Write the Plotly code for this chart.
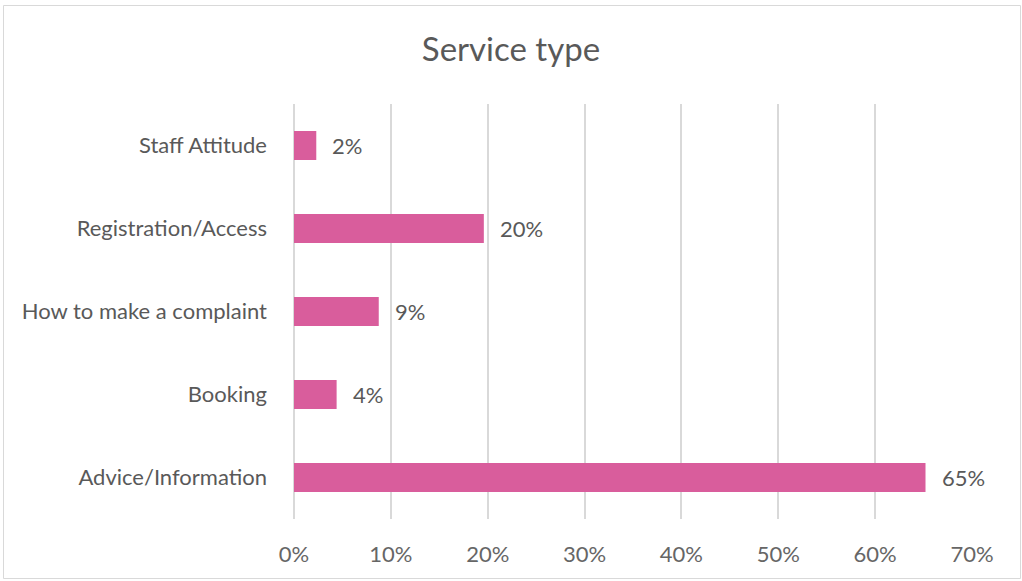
import plotly.graph_objects as go

categories = ["Advice/Information", "Booking", "How to make a complaint", "Registration/Access", "Staff Attitude"]
values = [0.652, 0.044, 0.0875, 0.196, 0.023]
labels = ["65%", "4%", "9%", "20%", "2%"]
x_ticks = [0, 0.1, 0.2, 0.3, 0.4, 0.5, 0.6, 0.7]
x_ticktext = ["0%", "10%", "20%", "30%", "40%", "50%", "60%", "70%"]

W, H = 1022, 581
ML, MR, MT, MB = 294, 50, 104, 62
FONT = "Lato"
GREY = "#595959"
TICKGREY = "#666666"
GRID = "#D9D9D9"

fig = go.Figure(go.Bar(
    y=categories, x=values, orientation="h",
    marker=dict(color="#D95D9C", line=dict(width=0)),
    hoverinfo="skip",
))

for c, v, t in zip(categories, values, labels):
    fig.add_annotation(x=v, y=c, text=t, showarrow=False, xanchor="left",
                       xshift=14, font=dict(family=FONT, size=22, color=GREY))

pw = W - ML - MR
ph = H - MT - MB
def px2x(p):
    return (p - ML) / pw
def py2y(p):
    return 1 - (p - MT) / ph

fig.add_shape(type="rect", xref="paper", yref="paper",
              x0=px2x(3.5), x1=px2x(1020.5), y0=py2y(578.5), y1=py2y(5.5),
              line=dict(color=GRID, width=1), fillcolor="rgba(0,0,0,0)", layer="below")

fig.update_layout(
    width=W, height=H,
    margin=dict(l=ML, r=MR, t=MT, b=MB),
    paper_bgcolor="white", plot_bgcolor="white",
    bargap=0.65,
    showlegend=False,
    title=dict(text="Service type", x=0.5, xref="container", xanchor="center", y=1 - 49 / H, yanchor="middle",
               font=dict(family=FONT, size=33, color=GREY)),
    xaxis=dict(range=[0, 0.7], tickvals=x_ticks, ticktext=x_ticktext, showgrid=True,
               gridcolor=GRID, gridwidth=1.5, zeroline=True, zerolinecolor=GRID, zerolinewidth=1.5,
               showline=False,
               tickfont=dict(family=FONT, size=22, color=TICKGREY), ticks="", ticklabelstandoff=20,
               fixedrange=True),
    yaxis=dict(showgrid=False, zeroline=False, showline=False, ticks="",
               tickfont=dict(family=FONT, size=22, color=GREY), ticklabelstandoff=26,
               fixedrange=True),
)

fig.write_html("out.html")
